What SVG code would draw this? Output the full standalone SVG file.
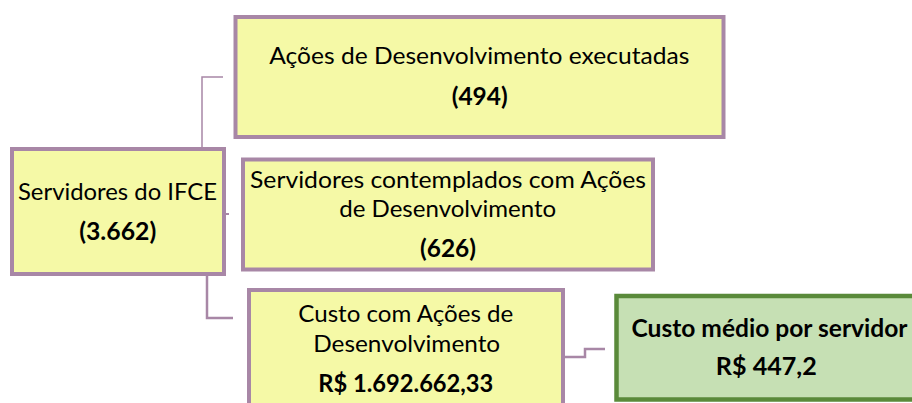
<svg xmlns="http://www.w3.org/2000/svg" width="912" height="403" viewBox="0 0 912 403">
<style>
.box{fill:#F5F9A6;stroke:#A887A6;stroke-width:4}
.gbox{fill:#C6E0B4;stroke:#5A8A3A;stroke-width:4.5}
.t{font-family:Lato,"Open Sans","Liberation Sans",sans-serif;font-size:24px;fill:#000;text-anchor:middle}
.b{font-weight:bold}
.c{fill:none;stroke:#A887A6}
</style>
<rect width="912" height="403" fill="#fff"/>
<g id="connectors">
<polyline class="c" stroke-width="1.5" points="202,148 202,77 223,77"/>
<line class="c" stroke-width="2" x1="225" y1="214" x2="229" y2="214"/>
<polyline class="c" stroke-width="2.5" points="207,275 207,318 233,318"/>
<polyline class="c" stroke-width="2.5" points="564,357 585,357 585,349 605,349"/>
</g>
<g id="servidores">
<rect class="box" x="12" y="149" width="212" height="125"/>
<text class="t" x="117.5" y="199.5" textLength="199" lengthAdjust="spacingAndGlyphs">Servidores do IFCE</text>
<text class="t b" x="117.7" y="239.5" textLength="77" lengthAdjust="spacingAndGlyphs">(3.662)</text>
</g>
<g id="acoes">
<rect class="box" x="235.5" y="17" width="488" height="120"/>
<text class="t" x="479.3" y="64" textLength="420" lengthAdjust="spacingAndGlyphs">Ações de Desenvolvimento executadas</text>
<text class="t b" x="479.7" y="105" textLength="56" lengthAdjust="spacingAndGlyphs">(494)</text>
</g>
<g id="contemplados">
<rect class="box" x="243" y="159.5" width="410" height="110"/>
<text class="t" x="448" y="188.3" textLength="396" lengthAdjust="spacingAndGlyphs">Servidores contemplados com Ações</text>
<text class="t" x="447.7" y="217.3" textLength="217" lengthAdjust="spacingAndGlyphs">de Desenvolvimento</text>
<text class="t b" x="448" y="256.5" textLength="56" lengthAdjust="spacingAndGlyphs">(626)</text>
</g>
<g id="custo">
<rect class="box" x="249" y="290" width="314" height="125"/>
<text class="t" x="405.8" y="321.7" textLength="215" lengthAdjust="spacingAndGlyphs">Custo com Ações de</text>
<text class="t" x="406.7" y="352.3" textLength="187" lengthAdjust="spacingAndGlyphs">Desenvolvimento</text>
<text class="t b" x="405.8" y="391.7" textLength="175" lengthAdjust="spacingAndGlyphs">R$ 1.692.662,33</text>
</g>
<g id="custo-medio">
<rect class="gbox" x="616.5" y="296" width="306" height="103.5"/>
<text class="t b" x="769.5" y="336.7" textLength="276" lengthAdjust="spacingAndGlyphs">Custo médio por servidor</text>
<text class="t b" x="766.3" y="375" textLength="101" lengthAdjust="spacingAndGlyphs">R$ 447,2</text>
</g>
</svg>
